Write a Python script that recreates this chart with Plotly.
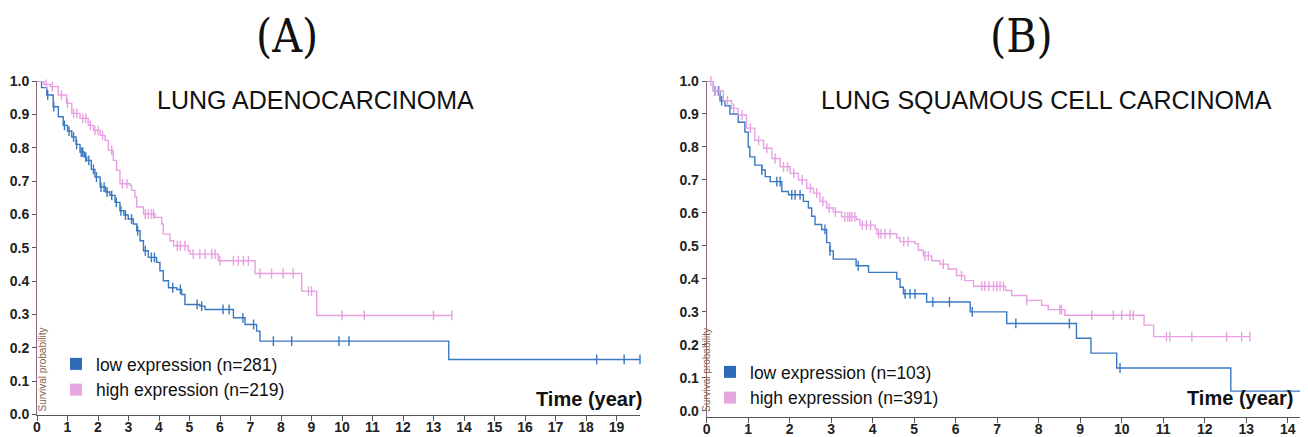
import numpy as np
import plotly.graph_objects as go

# ---------------- data ----------------
# Panel A: lung adenocarcinoma
A_low_t = [0, 0.15, 0.32, 0.53, 0.70, 0.86, 1.00, 1.14, 1.28, 1.41, 1.55, 1.63, 1.78, 1.90, 2.07, 2.25,
           2.39, 2.56, 2.72, 2.85, 2.99, 3.16, 3.27, 3.38, 3.49, 3.65, 3.92, 4.03, 4.14, 4.31, 4.58,
           4.74, 4.85, 5.34, 5.51, 6.44, 6.82, 7.20, 7.31, 13.5]
A_low_s = [1.0, 0.98, 0.958, 0.923, 0.893, 0.867, 0.85, 0.832, 0.81, 0.787, 0.772, 0.762, 0.735, 0.712, 0.682, 0.667,
           0.657, 0.636, 0.611, 0.598, 0.586, 0.571, 0.551, 0.521, 0.491, 0.471, 0.456, 0.431, 0.401, 0.380, 0.375,
           0.360, 0.330, 0.325, 0.315, 0.290, 0.270, 0.250, 0.220, 0.165]
A_low_end = 19.77
A_low_cens = [0.35, 0.55, 0.9, 1.05, 1.2, 1.3, 1.45, 1.5, 1.6, 1.7, 1.85, 1.95, 2.1, 2.2, 2.3, 2.45, 2.6,
              2.75, 2.9, 3.1, 3.3, 3.55, 3.75, 3.85, 4.45, 4.7, 5.25, 5.4, 6.1, 6.3, 6.75, 7.1, 7.75, 8.35,
              9.9, 10.23, 18.35, 19.25, 19.77]

A_high_t = [0, 0.23, 0.43, 0.70, 0.97, 1.14, 1.41, 1.68, 1.85, 2.07, 2.23, 2.34, 2.50, 2.61, 2.72, 3.05,
            3.10, 3.21, 3.27, 3.49, 3.87, 4.09, 4.14, 4.36, 4.48, 4.96, 5.02, 5.94, 7.15, 8.68, 9.17]
A_high_s = [1.0, 0.99, 0.983, 0.958, 0.933, 0.903, 0.888, 0.867, 0.852, 0.837, 0.822, 0.792, 0.762, 0.732, 0.692, 0.687,
            0.672, 0.652, 0.622, 0.601, 0.591, 0.571, 0.541, 0.521, 0.506, 0.491, 0.481, 0.461, 0.423, 0.370, 0.297]
A_high_end = 13.6
A_high_cens = [0.3, 0.5, 0.8, 1.0, 1.2, 1.3, 1.5, 1.6, 1.75, 1.9, 2.0, 2.15, 2.45, 2.8, 2.95, 3.55, 3.65,
               3.75, 3.82, 4.6, 4.7, 4.85, 5.12, 5.34, 5.51, 5.73, 5.84, 6.0, 6.44, 6.6, 6.77, 6.93, 7.31,
               7.69, 8.07, 8.40, 8.9, 9.0, 10.0, 10.73, 13.0, 13.6]

# Panel B: lung squamous cell carcinoma
B_low_t = [0, 0.16, 0.32, 0.44, 0.56, 0.76, 0.92, 1.0, 1.04, 1.16, 1.33, 1.41, 1.53, 1.81, 1.97, 2.33,
           2.45, 2.53, 2.61, 2.77, 2.89, 2.97, 3.05, 3.6, 3.9, 4.58, 4.66, 4.74, 5.3, 6.35, 7.23, 8.91,
           9.26, 9.88, 12.63]
B_low_s = [1.0, 0.97, 0.94, 0.925, 0.90, 0.875, 0.845, 0.80, 0.77, 0.745, 0.73, 0.71, 0.695, 0.665, 0.655, 0.635,
           0.615, 0.59, 0.565, 0.55, 0.51, 0.485, 0.46, 0.44, 0.42, 0.40, 0.375, 0.355, 0.33, 0.30, 0.265, 0.22,
           0.175, 0.13, 0.06]
B_low_end = 14.6
B_low_cens = [0.2, 0.28, 0.36, 1.33, 1.69, 1.77, 2.05, 2.13, 2.25, 2.85, 2.97, 3.65, 4.78, 4.9, 5.02,
              5.45, 5.85, 6.4, 7.45, 8.74, 9.96]

B_high_t = [0, 0.16, 0.40, 0.60, 0.76, 0.96, 1.16, 1.37, 1.57, 1.77, 2.01, 2.21, 2.41, 2.57, 2.73, 2.89,
            3.05, 3.25, 3.61, 3.69, 4.06, 4.10, 4.58, 4.66, 5.02, 5.10, 5.22, 5.42, 5.62, 5.82, 6.02,
            6.22, 6.43, 7.2, 7.35, 7.71, 8.07, 8.23, 8.63, 10.54, 10.77]
B_high_s = [1.0, 0.97, 0.94, 0.917, 0.897, 0.857, 0.82, 0.796, 0.765, 0.74, 0.72, 0.70, 0.675, 0.66, 0.635, 0.615,
            0.603, 0.588, 0.58, 0.563, 0.552, 0.537, 0.525, 0.513, 0.507, 0.487, 0.47, 0.455, 0.445, 0.43, 0.41,
            0.395, 0.378, 0.365, 0.35, 0.335, 0.32, 0.307, 0.29, 0.26, 0.225]
B_high_end = 13.09
B_high_cens = [0.1, 0.2, 0.3, 0.5, 0.65, 0.85, 1.05, 1.25, 1.45, 1.65, 1.85, 1.95, 2.1, 2.3, 2.5, 2.65,
               2.8, 2.95, 3.1, 3.33, 3.4, 3.45, 3.5, 3.57, 3.75, 3.85, 3.95, 4.14, 4.2, 4.3, 4.42, 4.75,
               4.85, 5.26, 5.34, 5.7, 6.14, 6.63, 6.7, 6.8, 6.91, 6.99, 7.07, 7.15, 7.71, 8.51, 8.55,
               9.28, 9.8, 10.0, 10.2, 10.28, 11.08, 11.16, 11.69, 12.53, 12.89, 13.09]

A_labels = ["low expression (n=281)", "high expression (n=219)"]
B_labels = ["low expression (n=103)", "high expression (n=391)"]
panel_titles = ["LUNG ADENOCARCINOMA", "LUNG SQUAMOUS CELL CARCINOMA"]
panel_letters = ["(A)", "(B)"]
x_label = "Time (year)"
y_label = "Survival probability"
A_xticks = list(range(0, 20))
B_xticks = list(range(0, 15))
y_ticks = [round(0.1 * i, 1) for i in range(11)]

# ---------------- styling ----------------
BLUE = "#3a78c2"
BLUE_SQ = "#2d6bb8"
PINK = "#e8a0e2"
PINK_SQ = "#e6a6e0"
FONT = "Liberation Sans, Arial, sans-serif"
NARROW = "Liberation Sans Narrow, Arial Narrow, Liberation Sans, Arial, sans-serif"


def surv_at(ts, ss, t):
    i = np.searchsorted(np.asarray(ts), t, side="right") - 1
    return ss[max(i, 0)]


fig = go.Figure()


def add_curve(ts, ss, end, cens, color, xa, ya):
    xs = list(ts) + [end]
    ys = list(ss) + [ss[-1]]
    fig.add_trace(go.Scatter(x=xs, y=ys, mode="lines", line=dict(color=color, width=1.4, shape="hv"),
                             xaxis=xa, yaxis=ya, showlegend=False, hoverinfo="skip", cliponaxis=True))
    cy = [surv_at(ts, ss, c) for c in cens]
    fig.add_trace(go.Scatter(x=cens, y=cy, mode="markers",
                             marker=dict(symbol="line-ns", size=7, line=dict(color=color, width=1.4)),
                             xaxis=xa, yaxis=ya, showlegend=False, hoverinfo="skip", cliponaxis=False))


def add_legend(label, color, xa, ya, legend):
    fig.add_trace(go.Scatter(x=[None], y=[None], mode="markers", name=label,
                             marker=dict(symbol="square", size=12, color=color),
                             xaxis=xa, yaxis=ya, legend=legend))


add_curve(A_low_t, A_low_s, A_low_end, A_low_cens, BLUE, "x", "y")
add_curve(A_high_t, A_high_s, A_high_end, A_high_cens, PINK, "x", "y")
add_curve(B_low_t, B_low_s, B_low_end, B_low_cens, BLUE, "x2", "y2")
add_curve(B_high_t, B_high_s, B_high_end, B_high_cens, PINK, "x2", "y2")
add_legend(A_labels[0], BLUE_SQ, "x", "y", "legend")
add_legend(A_labels[1], PINK_SQ, "x", "y", "legend")
add_legend(B_labels[0], BLUE_SQ, "x2", "y2", "legend2")
add_legend(B_labels[1], PINK_SQ, "x2", "y2", "legend2")

# the page body adds an 8px offset; the figure is sized so the whole view is filled
OFF = 8
W, H = 1308 - OFF, 437 - OFF


def px(x):
    return (x - OFF) / W


def py(y):
    return (H - (y - OFF)) / H


xcommon = dict(showgrid=False, zeroline=False, showline=True, linecolor="#555", linewidth=1,
               ticks="outside", ticklen=5, tickcolor="#555", tickwidth=1, automargin=False,
               ticklabelstandoff=-5,
               tickfont=dict(family=NARROW, size=14, color="#222", weight="bold"))
ycommon = dict(showgrid=False, zeroline=False, showline=True, linecolor="#8c6d80", linewidth=1,
               ticks="outside", ticklen=4, tickcolor="#555", tickwidth=1, automargin=False,
               tickvals=y_ticks, tickformat=".1f",
               tickfont=dict(family=NARROW, size=14, color="#222", weight="bold"))

legend_common = dict(xanchor="left", yanchor="top", bgcolor="rgba(0,0,0,0)",
                     font=dict(family=FONT, size=17.5, color="#111"), tracegroupgap=0, itemsizing="trace")

fig.update_layout(
    width=W, height=H, margin=dict(l=0, r=0, t=0, b=0, autoexpand=False),
    paper_bgcolor="white", plot_bgcolor="white",
    xaxis=dict(domain=[px(37), px(640)], range=[0, 19.77], tickvals=A_xticks, anchor="y", **xcommon),
    yaxis=dict(domain=[py(414.5), py(81)], range=[0, 1], anchor="x", **ycommon),
    xaxis2=dict(domain=[px(706.7), 1.0], range=[0, 14.49], tickvals=B_xticks, anchor="y2", **xcommon),
    yaxis2=dict(domain=[py(416.5), py(81)], range=[-0.017, 1], anchor="x2", **ycommon),
    legend=dict(x=px(56), y=py(346), **legend_common),
    legend2=dict(x=px(710), y=py(354), **legend_common),
)

ann = []
for txt, cx in zip(panel_letters, [287, 1021]):
    ann.append(dict(text=txt, x=px(cx), y=py(36), xref="paper", yref="paper", showarrow=False,
                    xanchor="center", yanchor="middle",
                    font=dict(family="DejaVu Serif Condensed, Liberation Serif, serif", size=46, color="#111")))
for txt, cx in zip(panel_titles, [315, 1046]):
    ann.append(dict(text=txt, x=px(cx), y=py(100), xref="paper", yref="paper", showarrow=False,
                    xanchor="center", yanchor="middle", font=dict(family=FONT, size=25, color="#111")))
for cx, cy in [(589, 399), (1240, 398)]:
    ann.append(dict(text=x_label, x=px(cx), y=py(cy), xref="paper", yref="paper", showarrow=False,
                    xanchor="center", yanchor="middle",
                    font=dict(family=FONT, size=20, color="#111", weight="bold")))
for cx in [41.5, 706]:
    ann.append(dict(text=y_label, x=px(cx), y=py(370), xref="paper", yref="paper", showarrow=False,
                    xanchor="center", yanchor="middle", textangle=-90,
                    font=dict(family=FONT, size=10, color="#8a6050")))
fig.update_layout(annotations=ann)

fig.write_html("out.html")
